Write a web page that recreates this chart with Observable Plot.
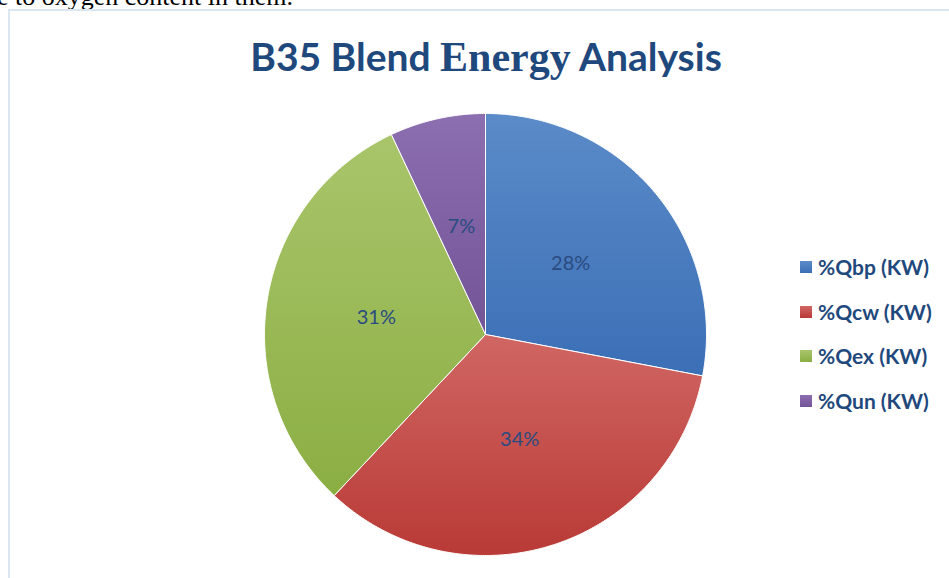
<!DOCTYPE html>
<html>
<head>
<meta charset="utf-8">
<script src="https://cdn.jsdelivr.net/npm/d3@7"></script>
<script src="https://cdn.jsdelivr.net/npm/@observablehq/plot@0.6"></script>
<style>
  html, body { margin: 0; padding: 0; background: #fff; overflow: hidden; }
  #wrap { position: relative; width: 949px; height: 578px; overflow: hidden; }
  #doctext { position: absolute; left: -3px; top: -16px; font-family: "Liberation Serif", "Times New Roman", serif; font-size: 26px; line-height: 26px; color: #000; white-space: nowrap; }
  #frame { position: absolute; left: 8px; top: 9px; width: 960px; height: 600px; border-left: 2px solid #dce6f2; border-top: 2px solid #dce6f2; box-sizing: border-box; background: #fff; }
  #chart { position: absolute; left: 0; top: 0; }
  #legend { position: absolute; left: 800px; top: 253px; font-family: Lato, "Open Sans", sans-serif; font-weight: bold; font-size: 21px; line-height: 28px; color: #1f497d; }
  #legend .item { height: 44.7px; display: flex; align-items: flex-start; white-space: nowrap; }
  #legend .sw { width: 12px; height: 12px; margin-right: 6px; margin-top: 8px; }
</style>
</head>
<body>
<div id="wrap">
  <div id="doctext">e to oxygen content in them.</div>
  <div id="frame"></div>
  <div id="chart"></div>
  <div id="legend"></div>
</div>
<script>
const categories = ["%Qbp (KW)", "%Qcw (KW)", "%Qex (KW)", "%Qun (KW)"];
const values = [28, 34, 31, 7];
const labels = ["28%", "34%", "31%", "7%"];
const titleText = "B35 Blend Energy Analysis";
const gradTop = ["#5b8bc8", "#d06663", "#a9c56b", "#8c6fb0"];
const gradBottom = ["#3b6fb6", "#b93a36", "#8bae43", "#735497"];

const data = categories.map((c, i) => ({category: c, value: values[i], label: labels[i], i}));
const arcs = d3.pie().value(d => d.value).sort(null)(data);

const pts = [];
arcs.forEach((a, i) => {
  pts.push({k: i, x: 0, y: 0});
  const n = Math.max(2, Math.ceil((a.endAngle - a.startAngle) / (Math.PI / 360)));
  for (let j = 0; j <= n; j++) {
    const t = a.startAngle + (a.endAngle - a.startAngle) * j / n;
    pts.push({k: i, x: Math.sin(t), y: Math.cos(t)});
  }
  pts.push({k: i, x: 0, y: 0});
});
const labelPts = arcs.map((a, i) => {
  const t = (a.startAngle + a.endAngle) / 2;
  return {x: 0.5 * Math.sin(t), y: 0.5 * Math.cos(t), label: a.data.label};
});

const defs = () => {
  const g = d3.create("svg:defs");
  gradTop.forEach((c, i) => {
    const lg = g.append("linearGradient").attr("id", "grad" + i)
      .attr("x1", 0).attr("y1", 0).attr("x2", 0).attr("y2", 1);
    lg.append("stop").attr("offset", "0%").attr("stop-color", c);
    lg.append("stop").attr("offset", "100%").attr("stop-color", gradBottom[i]);
  });
  return g.node();
};

const plot = Plot.plot({
  width: 949,
  height: 578,
  margin: 0,
  x: {domain: [-1, 1], range: [264, 706], axis: null},
  y: {domain: [-1, 1], range: [555, 113], axis: null},
  style: {background: "transparent", overflow: "visible"},
  marks: [
    defs,
    ...arcs.map((a, i) => Plot.line(pts.filter(p => p.k === i), {
      x: "x", y: "y", curve: "linear",
      fill: "url(#grad" + i + ")", stroke: "#ffffff", strokeWidth: 1, strokeLinejoin: "round"
    })),
    Plot.text(labelPts, {
      x: "x", y: "y", text: "label",
      fill: "#2a4b80", fontSize: 20, fontFamily: "Lato, 'Open Sans', sans-serif"
    }),
    Plot.text([titleText], {
      frameAnchor: "top", text: d => d, dx: 11, dy: 70,
      fill: "#1f497d", fontSize: 39, fontWeight: "bold", fontFamily: "Lato, 'Open Sans', sans-serif",
      lineAnchor: "bottom"
    })
  ]
});
document.getElementById("chart").appendChild(plot);

d3.select(plot).selectAll("text").each(function() {
  const el = d3.select(this);
  if (el.text() === titleText) {
    el.text(null);
    el.append("tspan").text("B35 Blend ");
    el.append("tspan").attr("font-family", "'Liberation Serif', 'DejaVu Serif', serif").attr("font-size", 42).text("Energy");
    el.append("tspan").text(" Analysis");
  }
});

const lg = d3.select("#legend");
categories.forEach((c, i) => {
  const item = lg.append("div").attr("class", "item");
  item.append("div").attr("class", "sw")
    .style("background", `linear-gradient(${gradTop[i]}, ${gradBottom[i]})`);
  item.append("span").text(c);
});
</script>
</body>
</html>
